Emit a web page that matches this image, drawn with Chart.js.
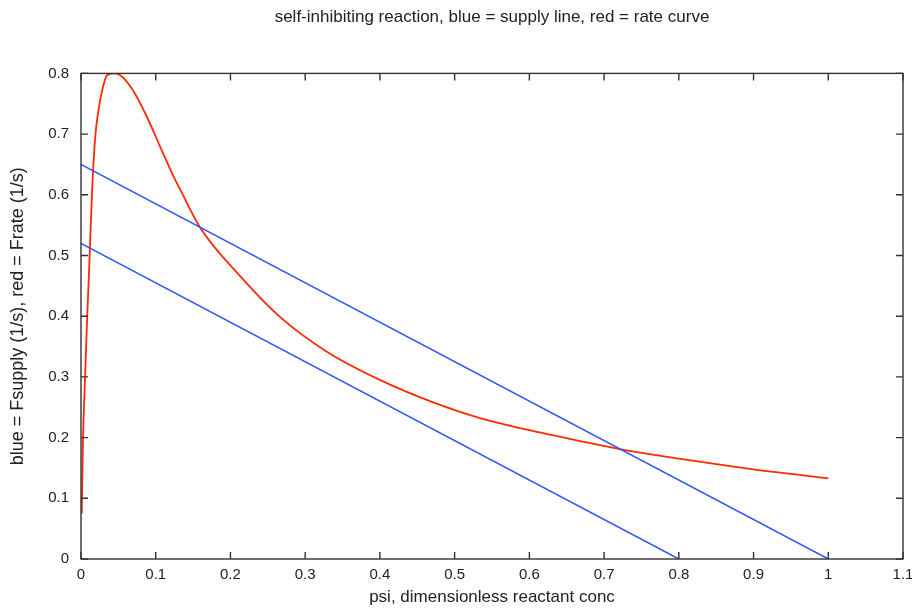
<!DOCTYPE html>
<html>
<head>
<meta charset="utf-8">
<script src="https://cdn.jsdelivr.net/npm/chart.js@4.4.1/dist/chart.umd.min.js"></script>
<style>
  html, body { margin: 0; padding: 0; background: #fff; }
  #wrap { width: 912px; height: 611px; }
</style>
</head>
<body>
<div id="wrap"><canvas id="rate-chart"></canvas></div>
<script>
// supply lines (psi, Fsupply)
const supplyHighX = [0, 1];
const supplyHighY = [0.65, 0];
const supplyLowX = [0, 0.8];
const supplyLowY = [0.52, 0];

// rate curve (psi, Frate)
const rateX = [0.001, 0.0027, 0.0053, 0.008, 0.0107, 0.0147, 0.0191, 0.0235, 0.028, 0.0348,
  0.0436, 0.0526, 0.068, 0.088, 0.106, 0.124, 0.133, 0.16, 0.213, 0.267, 0.329,
  0.40, 0.467, 0.534, 0.597, 0.665, 0.73, 0.80, 0.864, 0.93, 1.0];
const rateY = [0.075, 0.196, 0.295, 0.389, 0.471, 0.602, 0.696, 0.740, 0.770, 0.797,
  0.800, 0.797, 0.775, 0.729, 0.679, 0.630, 0.608, 0.545, 0.466, 0.398, 0.3415,
  0.295, 0.260, 0.232, 0.213, 0.195, 0.179, 0.1655, 0.154, 0.143, 0.133];

const xTicks = [0, 0.1, 0.2, 0.3, 0.4, 0.5, 0.6, 0.7, 0.8, 0.9, 1, 1.1];
const yTicks = [0, 0.1, 0.2, 0.3, 0.4, 0.5, 0.6, 0.7, 0.8];

const pts = (xs, ys) => xs.map((v, i) => ({ x: v, y: ys[i] }));

// gnuplot style box with inward ticks on all four sides
const frameTicks = {
  id: 'frameTicks',
  afterDatasetsDraw(chart) {
    const { ctx, chartArea: a, scales: { x, y } } = chart;
    ctx.save();
    ctx.strokeStyle = '#333';
    ctx.lineWidth = 1.4;
    ctx.strokeRect(a.left, a.top, a.right - a.left, a.bottom - a.top);
    ctx.beginPath();
    x.ticks.forEach(t => {
      const px = x.getPixelForValue(t.value);
      ctx.moveTo(px, a.bottom); ctx.lineTo(px, a.bottom - 7);
      ctx.moveTo(px, a.top); ctx.lineTo(px, a.top + 7);
    });
    y.ticks.forEach(t => {
      const py = y.getPixelForValue(t.value);
      ctx.moveTo(a.left, py); ctx.lineTo(a.left + 7, py);
      ctx.moveTo(a.right, py); ctx.lineTo(a.right - 7, py);
    });
    ctx.stroke();
    ctx.restore();
  }
};

Chart.defaults.font.family = "'Liberation Sans', Arial, sans-serif";
Chart.defaults.color = '#222';

new Chart(document.getElementById('rate-chart'), {
  type: 'line',
  data: {
    datasets: [
      {
        label: 'supply high',
        data: pts(supplyHighX, supplyHighY),
        borderColor: '#2f55ff',
        borderWidth: 1.5,
        pointRadius: 0
      },
      {
        label: 'supply low',
        data: pts(supplyLowX, supplyLowY),
        borderColor: '#2f55ff',
        borderWidth: 1.5,
        pointRadius: 0
      },
      {
        label: 'rate',
        data: pts(rateX, rateY),
        borderColor: '#ff2a00',
        borderWidth: 1.8,
        pointRadius: 0,
        cubicInterpolationMode: 'monotone'
      }
    ]
  },
  options: {
    responsive: true,
    maintainAspectRatio: false,
    animation: false,
    layout: { padding: { right: 9 } },
    plugins: {
      legend: { display: false },
      tooltip: { enabled: false },
      title: {
        display: true,
        fullSize: false,
        text: 'self-inhibiting reaction, blue = supply line, red = rate curve',
        color: '#222',
        font: { size: 17, weight: 'normal' },
        padding: { top: 7, bottom: 46 }
      }
    },
    scales: {
      x: {
        type: 'linear',
        min: 0,
        max: 1.1,
        afterBuildTicks: s => { s.ticks = xTicks.map(v => ({ value: v })); },
        afterFit: s => { s.height = 52; s.paddingLeft = 0; s.paddingRight = 0; },
        grid: { display: false, drawTicks: false },
        border: { display: false },
        ticks: { padding: 7, font: { size: 15 }, maxRotation: 0, autoSkip: false,
          callback: v => String(v) },
        title: {
          display: true,
          text: 'psi, dimensionless reactant conc',
          font: { size: 17 },
          padding: { top: 0, bottom: 3 }
        }
      },
      y: {
        min: 0,
        max: 0.8,
        afterBuildTicks: s => { s.ticks = yTicks.map(v => ({ value: v })); },
        afterFit: s => { s.width = 81; s.paddingTop = 0; s.paddingBottom = 0; },
        grid: { display: false, drawTicks: false },
        border: { display: false },
        ticks: { padding: 12, font: { size: 15 }, autoSkip: false,
          callback: v => String(v) },
        title: {
          display: true,
          text: 'blue = Fsupply (1/s), red = Frate (1/s)',
          font: { size: 18 },
          padding: { top: 7, bottom: 0 }
        }
      }
    }
  },
  plugins: [frameTicks]
});
</script>
</body>
</html>
